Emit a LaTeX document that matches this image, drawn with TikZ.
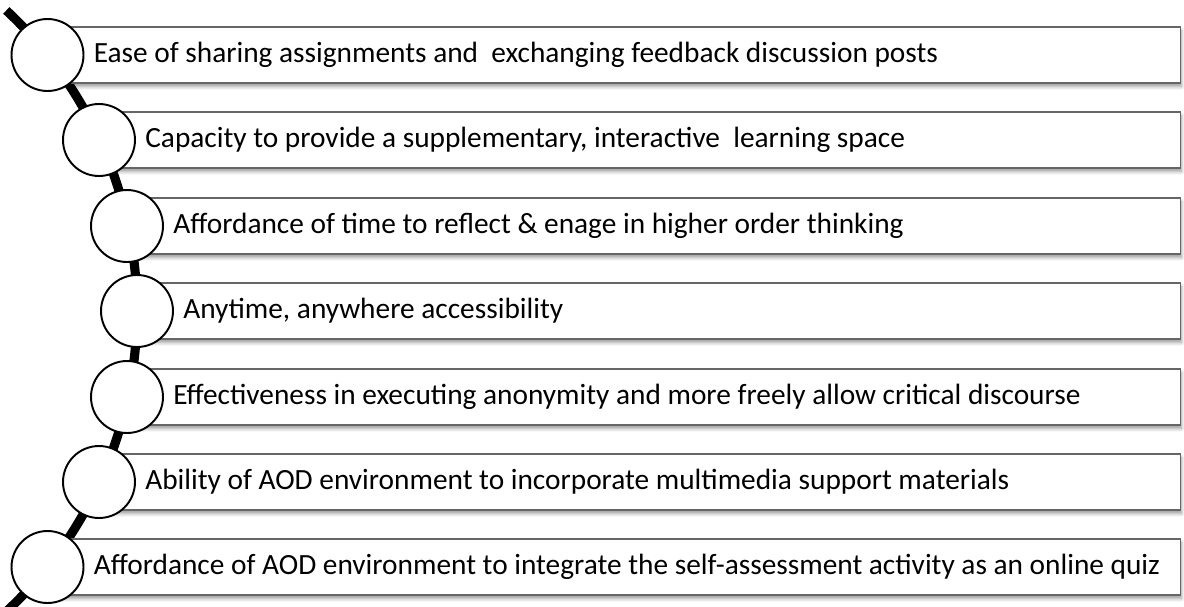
\documentclass[tikz,border=0pt]{standalone}
\usepackage{fontspec}
\setmainfont{Carlito}
\usepackage{tikz}
\usetikzlibrary{positioning,shadows.blur}

\begin{document}
\begin{tikzpicture}[x=0.02cm, y=-0.02cm,
  bar/.style={draw=black!60, fill=white, line width=0.6pt, minimum height=1.12cm,
    inner sep=0pt, anchor=west,
    blur shadow={shadow xshift=0.6pt, shadow yshift=-2pt, shadow blur steps=6, shadow blur radius=2pt}},
  dot/.style={circle, draw=black, fill=white, line width=1.1pt, minimum size=1.44cm, inner sep=0pt},
  item/.style={font=\fontsize{16.7}{20}\selectfont, inner sep=0pt, right=0.18cm of #1}]

\useasboundingbox (0,0) rectangle (1184,606);

% the spine behind the circles
\draw[line width=5.2pt] (-274,311) ++(47:411) arc[start angle=47, end angle=-47, radius=411];

% bars
\node[bar, minimum width=22.65cm] (b1) at (47.5,55) {};
\node[bar, minimum width=21.62cm] (b2) at (99,140) {};
\node[bar, minimum width=21.06cm] (b3) at (127,226) {};
\node[bar, minimum width=20.86cm] (b4) at (137,311) {};
\node[bar, minimum width=21.06cm] (b5) at (127,397) {};
\node[bar, minimum width=21.62cm] (b6) at (99,482) {};
\node[bar, minimum width=22.65cm] (b7) at (47.5,567) {};

% circles
\node[dot] (c1) at (47.5,55) {};
\node[dot] (c2) at (99,140) {};
\node[dot] (c3) at (127,226) {};
\node[dot] (c4) at (137,311) {};
\node[dot] (c5) at (127,397) {};
\node[dot] (c6) at (99,482) {};
\node[dot] (c7) at (47.5,567) {};

% labels
\node[item=c1] (t1) {Ease of sharing assignments and \ exchanging feedback discussion posts};
\node[item=c2] (t2) {Capacity to provide a supplementary, interactive \ learning space};
\node[item=c3] (t3) {Affordance of time to reflect \& enage in higher order thinking};
\node[item=c4] (t4) {Anytime, anywhere accessibility};
\node[item=c5] (t5) {Effectiveness in executing anonymity and more freely allow critical discourse};
\node[item=c6] (t6) {Ability of AOD environment to incorporate multimedia support materials};
\node[item=c7] (t7) {Affordance of AOD environment to integrate the self-assessment activity as an online quiz};

\end{tikzpicture}
\end{document}
